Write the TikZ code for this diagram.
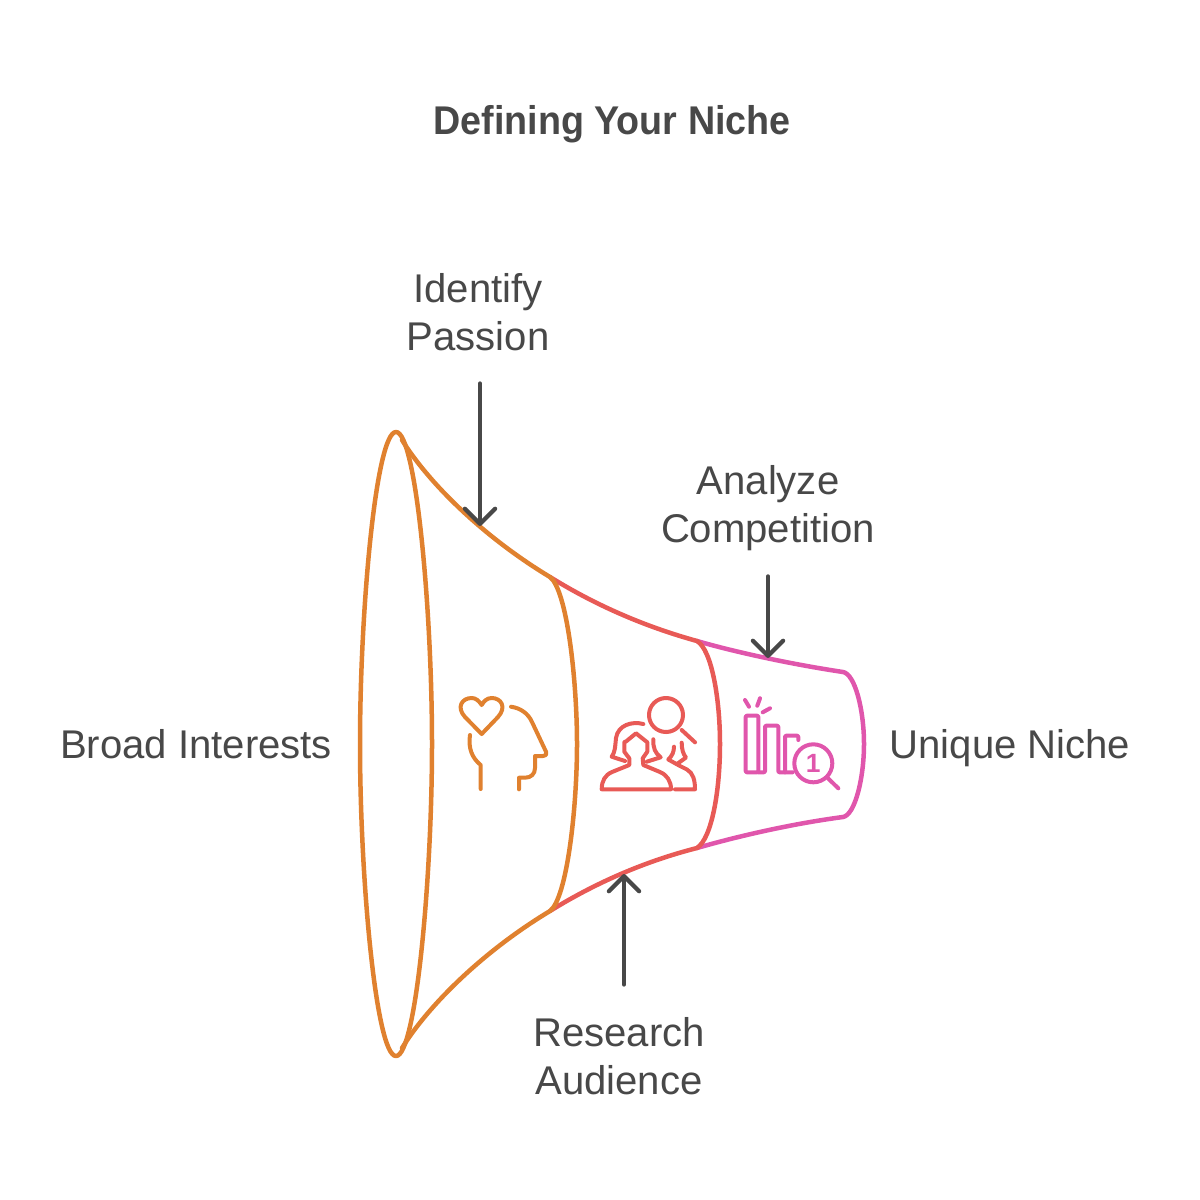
\documentclass[tikz,border=0pt]{standalone}
\usepackage{fontspec}
\usetikzlibrary{arrows.meta}
\setmainfont{Liberation Sans}
\newfontfamily\titlefont[FakeStretch=0.94]{Liberation Sans Bold}
\definecolor{cOrange}{HTML}{E0812F}
\definecolor{cRed}{HTML}{E85A56}
\definecolor{cPink}{HTML}{E056AC}
\definecolor{cText}{HTML}{484848}
\tikzset{
	lbl/.style={text=cText, font=\fontsize{11.4}{13.66}\selectfont, align=center, inner sep=0pt},
	arr/.style={draw=cText, line width=1.2pt, line cap=round, -{Straight Barb[length=4.3pt,width=8.6pt,line cap=round,line join=round]}},
	funnel/.style={line width=1.28pt, line join=round, line cap=round},
	icon/.style={line width=1.14pt, line join=round, line cap=round}
}
\begin{document}
\begin{tikzpicture}[x=0.01cm, y=-0.01cm]
	\useasboundingbox (0,0) rectangle (1200,1200);
	\node[lbl, font=\fontsize{11.4}{13.66}\titlefont] (title) at (612,124) {Defining Your Niche};
	\node[lbl] (lblPassion) at (478,312) {Identify\\Passion};
	\node[lbl] (lblCompete) at (768,508) {Analyze\\Competition};
	\node[lbl] (lblAudience) at (619,1056) {Research\\Audience};
	\node[lbl] (lblBroad) at (196,744) {Broad Interests};
	\node[lbl] (lblUnique) at (1010,748) {Unique Niche};
	\draw[funnel, cPink] (697,641) .. controls (735,652) and (790,664) .. (843,672) .. controls (855,674) and (864,710) .. (864,744) .. controls (864,778) and (855,815) .. (843,817) .. controls (790,824) and (735,837) .. (697,848);
	\draw[funnel, cRed] (550,577) .. controls (600,608) and (650,628) .. (697,641) .. controls (712,650) and (720,700) .. (720,744) .. controls (720,790) and (712,838) .. (697,848) .. controls (650,860) and (600,880) .. (550,911);
	\draw[funnel, cOrange] (396,432) .. controls (376,432) and (360,610) .. (360,744) .. controls (360,878) and (376,1056) .. (396,1056) .. controls (416,1056) and (432,878) .. (432,744) .. controls (432,610) and (416,432) .. (396,432) -- cycle;
	\draw[funnel, cOrange] (402,440) .. controls (428,482) and (482,536) .. (550,577) .. controls (567,590) and (577,680) .. (577,744) .. controls (577,808) and (567,898) .. (550,911) .. controls (482,952) and (428,1006) .. (402,1048);
	\coordinate (tipPassion) at (480,526);
	\coordinate (tipCompete) at (768,658);
	\coordinate (tipAudience) at (624,874);
	\draw[arr, shorten <=9.1pt] (lblPassion.south -| tipPassion) -- (tipPassion);
	\draw[arr, shorten <=7.1pt] (lblCompete.south -| tipCompete) -- (tipCompete);
	\draw[arr, shorten <=9.1pt] (lblAudience.north -| tipAudience) -- (tipAudience);
	% head with heart
	\begin{scope}[icon, cOrange]
		\draw (481.7,734) -- (465,717) .. controls (456,707) and (462,698) .. (471.7,698) .. controls (476,698) and (479,701) .. (481.7,705) .. controls (484,701) and (487,698) .. (491.7,698) .. controls (501,698) and (507,707) .. (498,717) -- cycle;
		\draw (511,706.7) .. controls (520,708) and (528,713) .. (532,722) -- (546,751.7) .. controls (547,755) and (545,756) .. (543,756) -- (535,756) -- (535,768) .. controls (535,774) and (531,777.7) .. (525,777.7) -- (519,777.7) -- (519,789.3);
		\draw (470,735) .. controls (468,748) and (472,758) .. (480.7,765) -- (480.7,789);
	\end{scope}
	% people with lens
	\begin{scope}[icon, cRed]
		\draw (666,715) circle (17);
		\draw (681.7,730) -- (695,742.3);
		\draw (643.3,724) .. controls (632,721) and (618,725) .. (616,738) .. controls (615,748) and (615,752) .. (611.7,756.7) -- (625,761);
		\draw (653.3,739.3) .. controls (653,748) and (655,753) .. (660.7,757.3) -- (646.7,761.7);
		\draw (636,733.3) -- (626,741.5) -- (624.3,742) -- (624.3,751.7) -- (629.3,758.3) -- (629.3,765) -- (612,772) .. controls (605,775) and (601.7,781) .. (601.7,789.3) -- (671,789.3) .. controls (671,781) and (667,775) .. (660,772) -- (643.3,765) -- (642.7,758.3) -- (647.3,751.7) -- (647.3,742.3) -- cycle;
		\draw (674,746.7) .. controls (674,752) and (672,756) .. (668.3,759.5) -- (680,766) -- (687,769.5) .. controls (693,773) and (695,780) .. (695,789.3) -- (675,789.3);
		\draw (681.7,742.7) .. controls (681.7,749) and (683,754) .. (686,757.5) -- (677,764);
	\end{scope}
	% bars with lens
	\begin{scope}[icon, cPink]
		\foreach \xa/\ya/\xb/\yb in {745/700/749/706.7, 760/698.3/757.3/705.7, 770/708.3/762.7/712.3}
			\draw (\xa,\ya) -- (\xb,\yb);
		\draw[rounded corners=0.3pt] (745.7,772.3) rectangle (758.3,715.7);
		\draw[rounded corners=0.3pt] (758.3,772.3) -- (765,772.3) -- (765,725.7) -- (778.3,725.7) -- (778.3,772.3) -- (792.7,772.3);
		\draw[rounded corners=0.3pt] (785,772.3) -- (785,735.7) -- (798.3,735.7) -- (798.3,740);
		\draw (813.3,763.3) circle (19);
		\draw (828,778.3) -- (838.3,788.3);
		\node[text=cPink, inner sep=0pt, font=\fontsize{7.5}{8}\selectfont\bfseries] (numOne) at (813.3,763.3) {1};
	\end{scope}
\end{tikzpicture}
\end{document}
